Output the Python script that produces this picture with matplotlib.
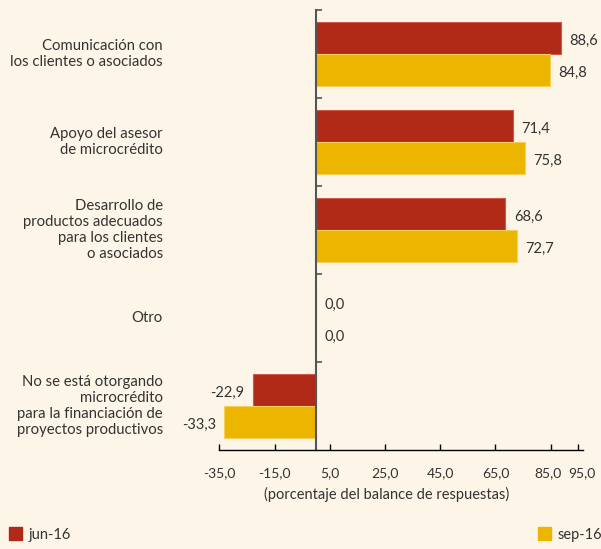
import matplotlib.pyplot as plt
import matplotlib.patches as mpatches
import matplotlib.transforms as mtransforms
import numpy as np

categories = [
    "Comunicación con\nlos clientes o asociados",
    "Apoyo del asesor\nde microcrédito",
    "Desarrollo de\nproductos adecuados\npara los clientes\no asociados",
    "Otro",
    "No se está otorgando\nmicrocrédito\npara la financiación de\nproyectos productivos",
]
jun16 = [88.6, 71.4, 68.6, 0.0, -22.9]
sep16 = [84.8, 75.8, 72.7, 0.0, -33.3]
xticks = [-35, -15, 5, 25, 45, 65, 85, 95]

BG = "#fdf6e8"
RED = "#b02a17"
YEL = "#ecb500"
TXT = "#333333"

plt.rcParams["font.family"] = ["Lato", "DejaVu Sans"]
plt.rcParams["font.size"] = 10

fig = plt.figure(figsize=(6.01, 5.49), dpi=100, facecolor=BG)
# axis box spans pixel x 219..583, y 10..450
ax = fig.add_axes([219.4 / 601, 1 - 450 / 549, (583 - 219.4) / 601, (450 - 10) / 549])
ax.set_facecolor(BG)

y = np.arange(len(categories))
h = 0.36
ax.barh(y - h / 2, jun16, height=h, color=RED, edgecolor="#d0584a", linewidth=0.8, label="jun-16")
ax.barh(y + h / 2, sep16, height=h, color=YEL, edgecolor="#f5cf5a", linewidth=0.8, label="sep-16")


def fmt(v):
    return f"{v:.1f}".replace(".", ",")


# value labels next to the bar ends
for offs, vals in ((-h / 2, jun16), (h / 2, sep16)):
    for yi, v in zip(y, vals):
        if v < 0:
            ax.annotate(fmt(v), (v, yi + offs), xytext=(-6, -2), textcoords="offset points",
                        ha="right", va="center", color=TXT, fontsize=10.5)
        else:
            ax.annotate(fmt(v), (v, yi + offs), xytext=(6, -2), textcoords="offset points",
                        ha="left", va="center", color=TXT, fontsize=10.5)

# category labels, right aligned left of the plot
trans = ax.get_yaxis_transform()
for yi, lab in zip(y, categories):
    ax.text((163 - 219.4) / 363.6, yi, lab, transform=trans, ha="right", va="center",
            color=TXT, fontsize=10.7, linespacing=1.2)

ax.set_xlim(-35, 96.7)
ax.set_ylim(len(categories) - 0.5, -0.5)

ax.spines["top"].set_visible(False)
ax.spines["right"].set_visible(False)
ax.spines["left"].set_position(("data", 0))
ax.spines["left"].set_color("#555555")
ax.spines["left"].set_linewidth(1.5)
ax.spines["bottom"].set_color("black")
ax.spines["bottom"].set_linewidth(1.0)

ax.set_yticks(np.arange(-0.5, len(categories) - 0.5, 1.0))
ax.set_yticklabels([])
ax.tick_params(axis="y", direction="in", length=4, color="#555555", width=1.2)

ax.set_xticks(xticks)
ax.set_xticklabels([fmt(t) for t in xticks])
ax.tick_params(axis="x", direction="in", length=4, color="black", width=1.0,
               labelsize=10, labelcolor=TXT, pad=12)
# nudge the last two tick labels apart so they don't run together
labels = ax.get_xticklabels()
for lab, dx in ((labels[-2], -3), (labels[-1], 4)):
    lab.set_transform(lab.get_transform() +
                      mtransforms.ScaledTranslation(dx / 100, 0, fig.dpi_scale_trans))

ax.set_xlabel("(porcentaje del balance de respuestas)", color=TXT, fontsize=10.5)
ax.xaxis.set_label_coords((387 - 219.4) / 363.6, -0.084)

red_patch = mpatches.Patch(color=RED, label="jun-16")
yel_patch = mpatches.Patch(color=YEL, label="sep-16")
for patch, xpos in ((red_patch, -4 / 601), (yel_patch, 525 / 601)):
    fig.legend(handles=[patch], loc="lower left", bbox_to_anchor=(xpos, -0.011),
               frameon=False, fontsize=10.5, handlelength=0.9, handleheight=1.0,
               handletextpad=0.4, labelcolor=TXT)

fig.savefig("out.png", dpi=100, facecolor=BG)
